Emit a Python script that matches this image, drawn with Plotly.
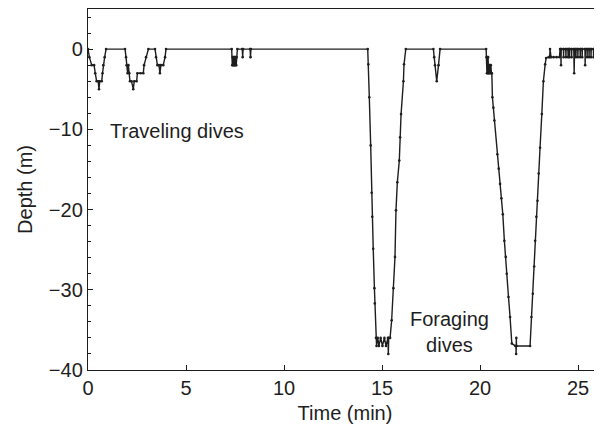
import plotly.graph_objects as go

# ---- data: time (min) and depth (m) ----
time_travel = [0.00, 0.07, 0.19, 0.31, 0.37, 0.44, 0.52, 0.56, 0.60, 0.70, 0.74, 0.78, 0.85, 0.92,
               1.89, 1.94, 1.97, 2.02, 2.06, 2.11, 2.14, 2.22, 2.31, 2.36, 2.48, 2.52, 2.68, 2.82, 2.86, 2.96, 3.08,
               3.42, 3.47, 3.54, 3.62, 3.67, 3.72, 3.84, 3.93, 3.98]
depth_travel = [0, -1, -2, -2, -3, -4, -4, -5, -4, -4, -3, -2, -1, 0,
                0, -1, -2, -3, -2, -3, -4, -4, -5, -4, -4, -3, -3, -3, -2, -1, 0,
                0, -1, -2, -2, -3, -2, -2, -1, 0]

time_mid = [7.33, 7.36, 7.38, 7.40, 7.42, 7.44, 7.46, 7.48, 7.50, 7.52, 7.54, 7.56, 7.58, 7.62,
            7.87, 7.89, 7.91, 8.27, 8.29, 8.31]
depth_mid = [0, -2, -1, -2, -1, -2, -1, -2, -1, -2, -1, -2, -1, 0,
             0, -1, 0, 0, -1, 0]

time_dive1 = [14.27, 14.30, 14.35, 14.42, 14.47, 14.50, 14.55, 14.61, 14.63, 14.69,
              14.72, 14.78, 14.84, 14.93, 15.02, 15.12, 15.20, 15.30, 15.32, 15.34, 15.41,
              15.49, 15.58, 15.66, 15.71, 15.78, 15.88, 15.92, 15.97, 16.09, 16.12, 16.21]
depth_dive1 = [0, -1.9, -6.0, -12.0, -17.9, -20.9, -24.9, -29.8, -31.7, -36,
               -37, -36, -37, -36, -37, -36, -37, -36, -38, -36, -36,
               -33.8, -29.8, -25.9, -20.1, -16.6, -13.9, -11.0, -8.1, -4.0, -1.9, 0]

time_small = [17.62, 17.66, 17.70, 17.79, 17.88, 17.96]
depth_small = [0, -1, -2, -4, -2, 0]

time_dive2 = [20.31, 20.33, 20.35, 20.37, 20.39, 20.41, 20.43, 20.45, 20.47, 20.50, 20.52, 20.55, 20.58, 20.60,
              20.63, 20.68, 20.73, 20.88, 20.95, 21.02, 21.09, 21.16, 21.24, 21.31, 21.36, 21.45, 21.53, 21.62,
              21.80, 21.83, 21.84, 21.85, 21.86, 22.55,
              22.62, 22.69, 22.76, 22.81, 22.87, 22.93, 22.99, 23.06, 23.15, 23.23, 23.32, 23.37,
              23.50, 23.55, 23.57, 23.62, 23.75, 23.90, 24.05, 24.08,
              24.12, 24.13, 24.14, 24.25, 24.26, 24.27, 24.37, 24.38, 24.39, 24.48, 24.49, 24.50,
              24.55, 24.56, 24.57, 24.66, 24.67, 24.68, 24.78, 24.80, 24.82, 24.88, 24.89, 24.90,
              24.98, 24.99, 25.00, 25.10, 25.11, 25.12, 25.20, 25.21, 25.22, 25.35, 25.36, 25.37,
              25.45, 25.46, 25.47, 25.55, 25.56, 25.57, 25.65, 25.66, 25.67, 25.78, 25.79, 25.80,
              25.88, 25.89, 25.90, 26.04, 26.12, 26.22]
depth_dive2 = [0, -1, -3, -1, -3, -1, -3, -2, -3, -2, -3, -2, -3, -3,
               -6, -7.3, -8.9, -13.1, -14.9, -16.8, -18.6, -20.6, -23.9, -25.9, -28, -30.9, -33.4, -36.7,
               -37, -37, -38, -36, -37, -37,
               -33.4, -30.5, -27.1, -23.9, -20.9, -18.9, -15.5, -12.3, -8.1, -4.0, -1.9, -1.1,
               -1, -1, 0, -1, -1, -1, -1, 0,
               0, -2, 0, 0, -1, 0, 0, -1, 0, 0, -1, 0,
               0, -1, 0, 0, -1, 0, 0, -3, 0, 0, -1, 0,
               0, -1, 0, 0, -1, 0, 0, -1, 0, 0, -2, 0,
               0, -1, 0, 0, -1, 0, 0, -1, 0, 0, -1, 0,
               0, -1, 0, -0.5, -4, -8]

time_all = time_travel + time_mid + time_dive1 + time_small + time_dive2
depth_all = depth_travel + depth_mid + depth_dive1 + depth_small + depth_dive2

x_ticks = [0, 5, 10, 15, 20, 25]
y_ticks = [0, -10, -20, -30, -40]
y_tick_text = ["0", "\u221210", "\u221220", "\u221230", "\u221240"]

FONT = "Liberation Sans, Arial, Helvetica, sans-serif"
INK = "#1e1e1e"

fig = go.Figure()
fig.add_trace(go.Scatter(
    x=time_all, y=depth_all, mode="lines+markers",
    line=dict(color=INK, width=1.4),
    marker=dict(color=INK, size=2.6),
    showlegend=False, hoverinfo="skip", cliponaxis=True))

fig.add_annotation(x=1.0, y=-10.2, xref="x", yref="y", text="Traveling dives",
                   showarrow=False, xanchor="left", yanchor="middle",
                   font=dict(family=FONT, size=20, color=INK))
fig.add_annotation(x=18.42, y=-35.3, xref="x", yref="y", text="Foraging<br>dives",
                   showarrow=False, xanchor="center", yanchor="middle", align="center",
                   font=dict(family=FONT, size=20, color=INK))

# the page body adds an 8px offset, so margins are shifted to compensate
fig.update_layout(
    width=602, height=431,
    margin=dict(l=80, r=8, t=1, b=69),
    paper_bgcolor="white", plot_bgcolor="white",
    font=dict(family=FONT, size=20, color=INK),
)
fig.update_xaxes(
    range=[0, 26.22], tickvals=x_ticks, ticks="inside", ticklen=5, tickwidth=1.2,
    tickcolor=INK, showline=True, linecolor=INK, linewidth=1.4, mirror=True,
    showgrid=False, zeroline=False, automargin=False,
    title=dict(text="Time (min)", standoff=7, font=dict(size=20)),
    tickfont=dict(size=20),
)
fig.update_yaxes(
    range=[-40, 5], tickvals=y_ticks, ticktext=y_tick_text, ticks="inside", ticklen=5,
    tickwidth=1.2, tickcolor=INK, showline=True, linecolor=INK, linewidth=1.4,
    mirror="ticks", showgrid=False, zeroline=False, automargin=False,
    minor=dict(dtick=2, ticks="inside", ticklen=3, tickcolor=INK, tickwidth=1, showgrid=False),
    title=dict(text="Depth (m)", standoff=10, font=dict(size=20)),
    tickfont=dict(size=20),
)

fig.write_html("out.html")
